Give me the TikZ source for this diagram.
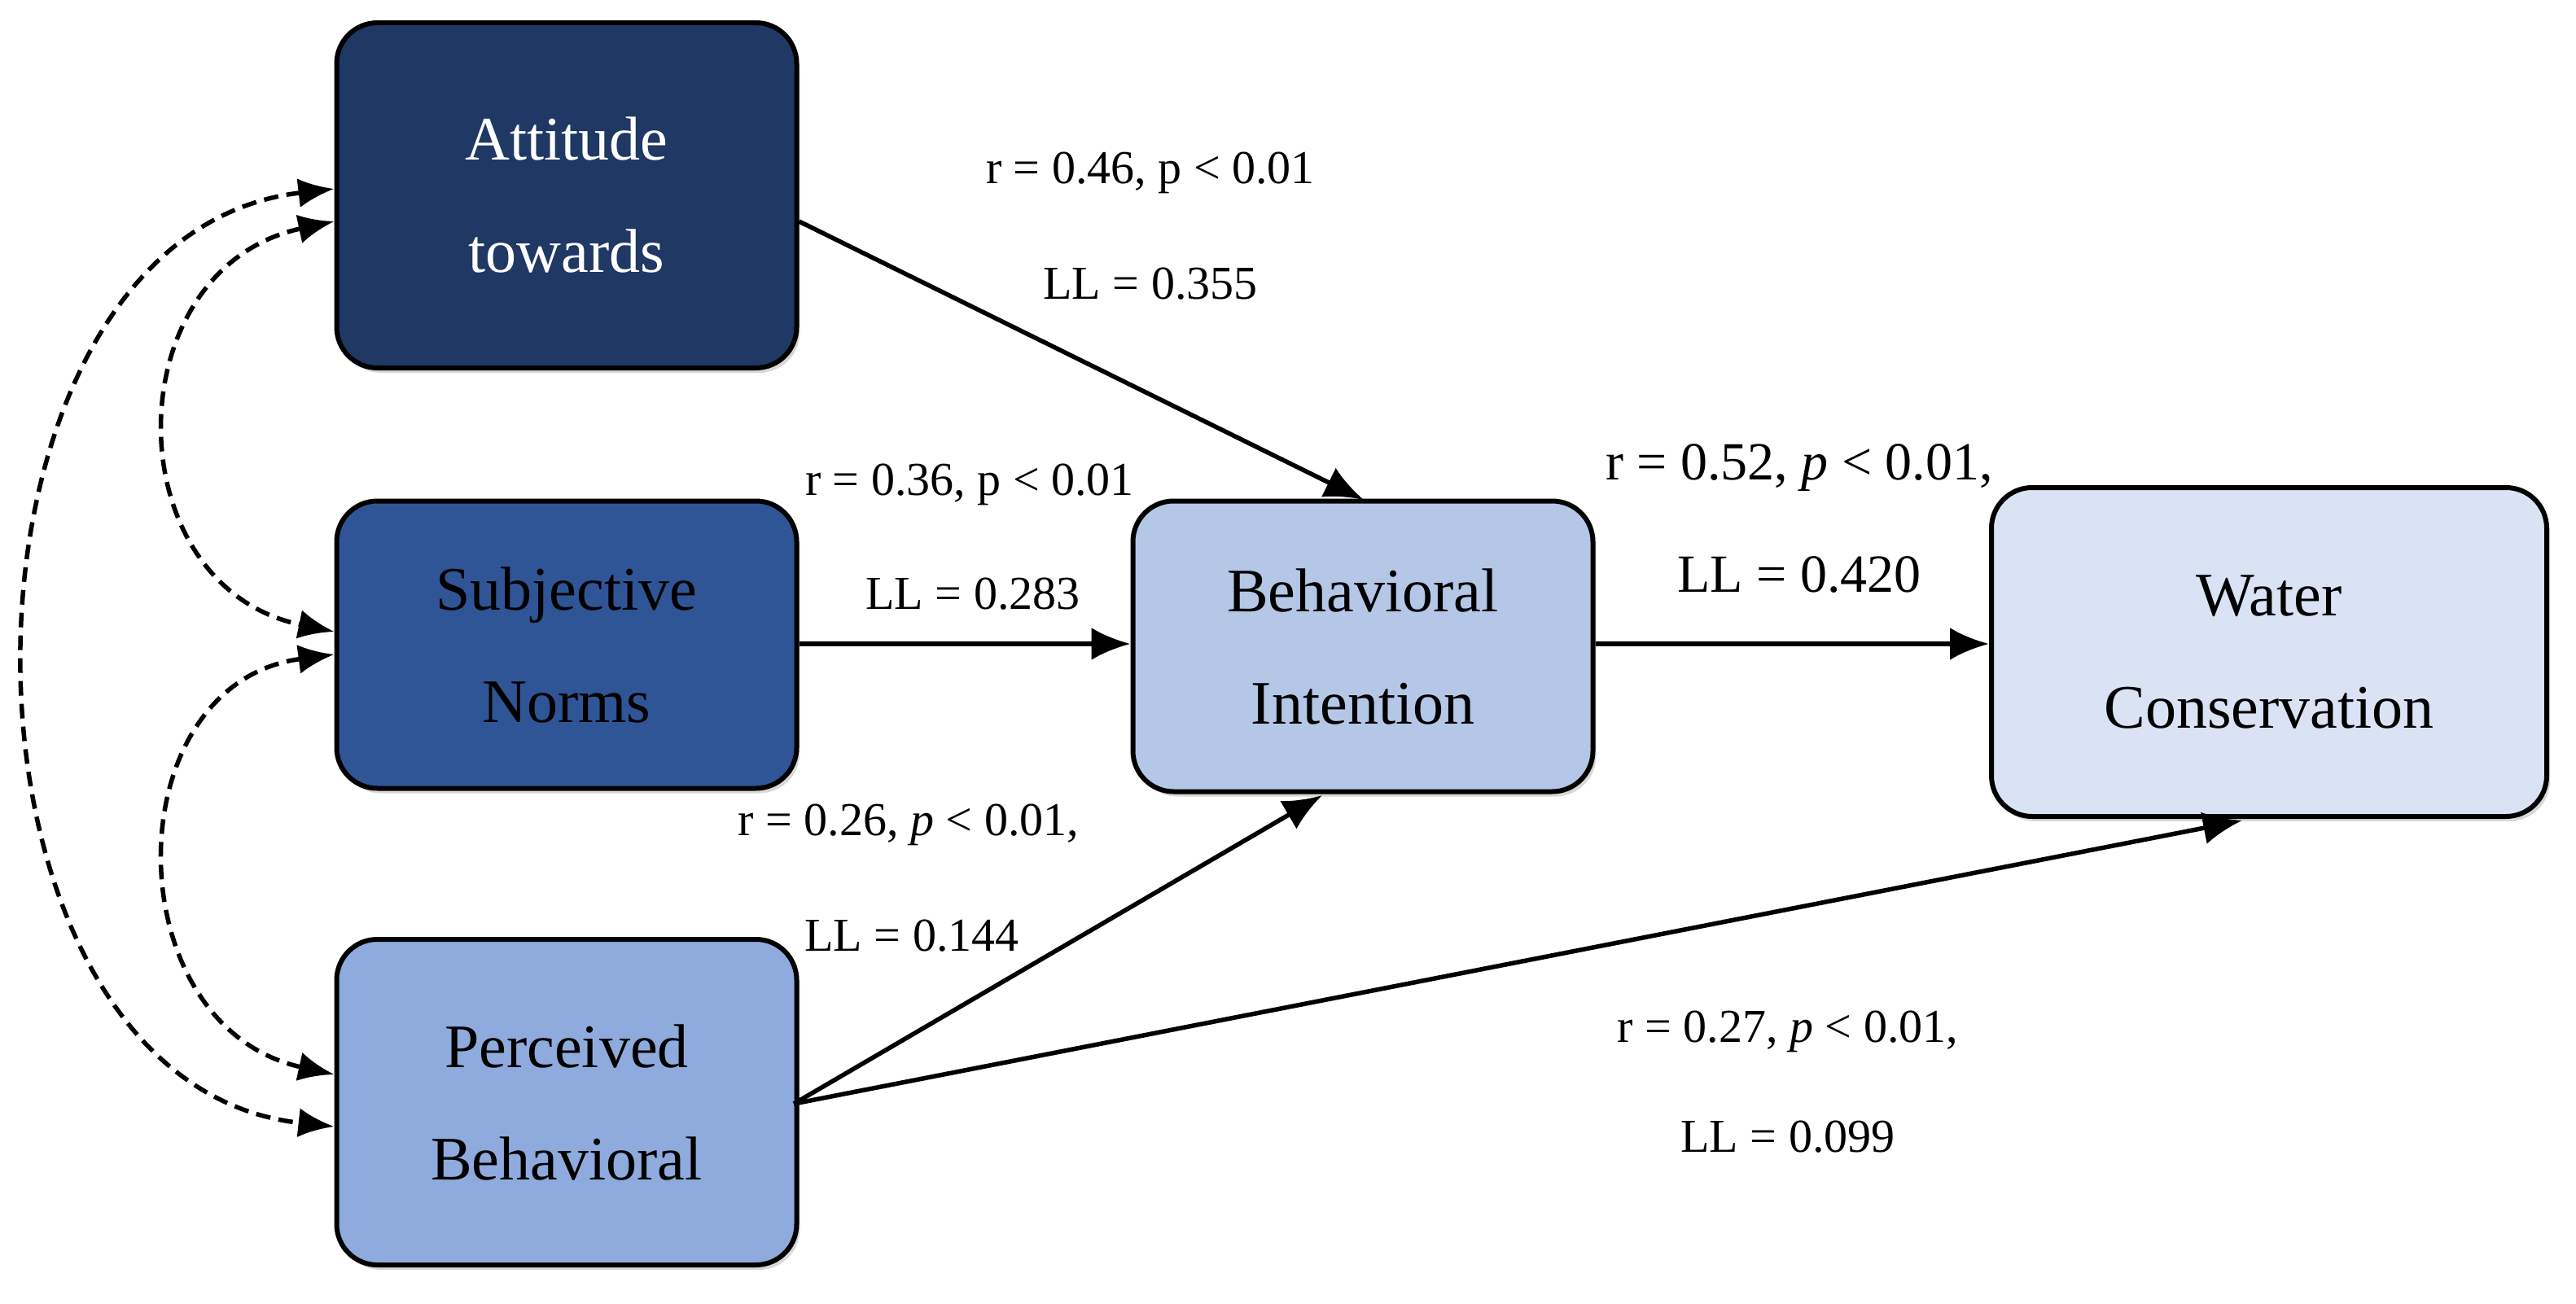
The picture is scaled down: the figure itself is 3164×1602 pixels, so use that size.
\documentclass[tikz,border=0pt]{standalone}
\usepackage{fontspec}
\setmainfont{Liberation Serif}
\usetikzlibrary{shadows,arrows.meta}
\begin{document}
\begin{tikzpicture}[x=1pt,y=-1pt,
 box/.style={draw=black,line width=6pt,rounded corners=50pt,align=center,font=\fontsize{76}{138}\selectfont,inner sep=0pt,drop shadow={shadow xshift=4pt,shadow yshift=-6pt,opacity=0.3}},
 lab/.style={font=\fontsize{58}{60}\selectfont},
 labb/.style={font=\fontsize{66}{70}\selectfont},
 arr/.style={line width=5.5pt,-{Latex[length=48pt,width=40pt]}},
 dsh/.style={line width=5.5pt,dash pattern=on 18pt off 10pt,{Latex[length=44pt,width=36pt]}-{Latex[length=44pt,width=36pt]}}]
\useasboundingbox (0,0) rectangle (3164,1602);
\fill[white] (0,0) rectangle (3164,1602);
\node[box,fill={rgb,255:red,31;green,56;blue,100},text=white,minimum width=565pt,minimum height=424pt] (att) at (696,240) {Attitude\\towards};
\node[box,fill={rgb,255:red,47;green,85;blue,151},minimum width=565pt,minimum height=353pt] (sn) at (696,792) {Subjective\\Norms};
\node[box,fill={rgb,255:red,143;green,170;blue,220},minimum width=565pt,minimum height=400pt] (pb) at (696,1354) {Perceived\\Behavioral};
\node[box,fill={rgb,255:red,180;green,199;blue,231},minimum width=565pt,minimum height=357pt] (bi) at (1674,794) {Behavioral\\Intention};
\node[box,fill={rgb,255:red,218;green,227;blue,243},minimum width=682pt,minimum height=404pt] (wc) at (2787,801) {Water\\Conservation};
\coordinate (biT) at (1675,614);
\coordinate (biB) at (1624,977);
\coordinate (wcB) at (2754,1008);
\draw[arr] (att.east|-0,272) -- (biT);
\draw[arr] (sn.east|-0,791) -- (bi.west|-0,791);
\draw[arr] (975,1356) -- (biB);
\draw[arr] (975,1356) -- (wcB);
\draw[arr] (bi.east|-0,791) -- (wc.west|-0,791);
\draw[dsh] (att.west|-0,232) .. controls (-90,290) and (-90,1330) .. (pb.west|-0,1384);
\draw[dsh] (att.west|-0,272) .. controls (140,330) and (140,720) .. (sn.west|-0,776);
\draw[dsh] (sn.west|-0,804) .. controls (140,840) and (140,1260) .. (pb.west|-0,1320);
\node[lab] (l1) at (1413,212) {r = 0.46, p < 0.01};
\node[lab] (l2) at (1413,349) {LL = 0.355};
\node[lab] (l3) at (1191,595) {r = 0.36, p < 0.01};
\node[lab] (l4) at (1195,730) {LL = 0.283};
\node[lab] (l5) at (1116,1013) {r = 0.26, \textit{p} < 0.01,};
\node[lab] (l6) at (1120,1150) {LL = 0.144};
\node[labb] (l7) at (2210,575) {r = 0.52, \textit{p} < 0.01,};
\node[labb] (l8) at (2210,706) {LL = 0.420};
\node[lab] (l9) at (2196,1267) {r = 0.27, \textit{p} < 0.01,};
\node[lab] (l10) at (2196,1397) {LL = 0.099};
\end{tikzpicture}
\end{document}
